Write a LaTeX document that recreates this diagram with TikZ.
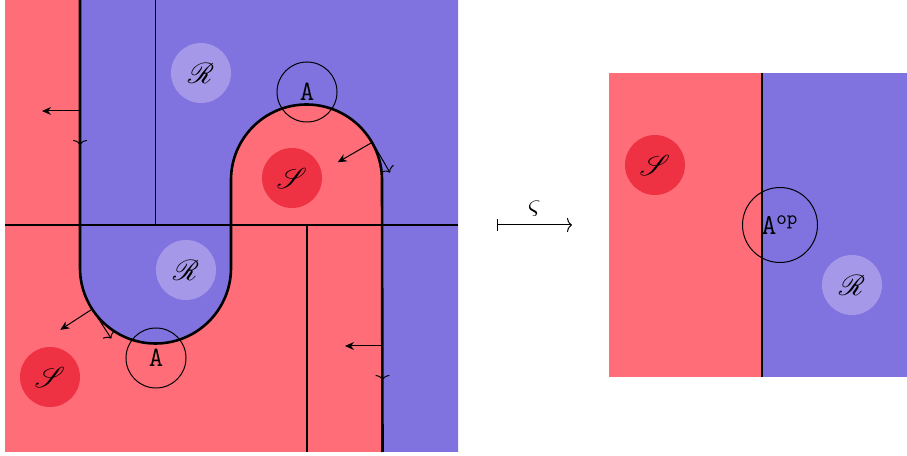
\documentclass[tikz,border=0pt]{standalone}
\usepackage{mathrsfs}
\usetikzlibrary{arrows.meta}
\definecolor{redbg}{RGB}{255,110,120}
\definecolor{bluebg}{RGB}{128,115,224}
\definecolor{redc}{RGB}{238,50,68}
\definecolor{bluec}{RGB}{166,152,232}
\begin{document}
\begin{tikzpicture}[x=0.5pt,y=0.5pt,
  thinline/.style={line width=0.55pt},
  wire/.style={line width=1.3pt},
  blob/.style={circle, minimum size=30pt, inner sep=0pt, font=\fontsize{14}{16}\selectfont},
  sblob/.style={blob, fill=redc},
  rblob/.style={blob, fill=bluec},
  ring/.style={circle, draw, line width=0.5pt, minimum size=30pt, inner sep=0pt, font=\fontsize{14}{16}\selectfont},
  normalarrow/.style={line width=0.5pt, -{Stealth[length=4.5pt,width=4pt]}},
  tangentarrow/.style={line width=0.5pt, -{To[length=2.5pt,width=7pt]}},
]
\useasboundingbox (0,0) rectangle (907,456);
% left panel
\fill[redbg] (5,4) rectangle (458,456);
\fill[bluebg] (80,456) -- (80,188) arc[start angle=180,end angle=360,radius=37.75pt]
  -- (231,276) arc[start angle=180,end angle=0,radius=37.75pt]
  -- (382.5,4) -- (458,4) -- (458,456) -- cycle;
\coordinate (h0) at (5,231); \coordinate (h1) at (458,231);
\coordinate (v0) at (155.5,456); \coordinate (v1) at (155.5,231);
\coordinate (w0) at (307,231); \coordinate (w1) at (307,4);
\draw[thinline] (h0) -- (h1);
\draw[thinline] (v0) -- (v1);
\draw[thinline] (w0) -- (w1);
\node[rblob] (r1) at (201,383) {$\mathscr{R}$};
\node[rblob] (r2) at (186,186) {$\mathscr{R}$};
\node[sblob] (s1) at (292,278) {$\mathscr{S}$};
\node[sblob] (s2) at (50,79) {$\mathscr{S}$};
\draw[wire] (80,456) -- (80,188) arc[start angle=180,end angle=360,radius=37.75pt]
  -- (231,276) arc[start angle=180,end angle=0,radius=37.75pt]
  -- (382.5,4);
\node[ring] (a1) at (307,364) {\texttt{A}};
\node[ring] (a2) at (156,98) {\texttt{A}};
% arrows
\coordinate (c1) at (155.5,188);
\coordinate (c2) at (307,276);
\coordinate (p1) at (80,345);
\coordinate (p1n) at (42,345);
\coordinate (p1t) at (80,311);
\draw[normalarrow] (p1) -- (p1n);
\draw[tangentarrow] (p1) -- (p1t);
\path (c2) ++(30:75.5) coordinate (p2);
\path (p2) ++(210:40) coordinate (p2n);
\path (p2) ++(-60:35) coordinate (p2t);
\draw[normalarrow] (p2) -- (p2n);
\draw[tangentarrow] (p2) -- (p2t);
\path (c1) ++(213:75.5) coordinate (p3);
\path (p3) ++(213:38) coordinate (p3n);
\path (p3) ++(-57:35) coordinate (p3t);
\draw[normalarrow] (p3) -- (p3n);
\draw[tangentarrow] (p3) -- (p3t);
\coordinate (p4) at (382.5,110);
\coordinate (p4n) at (345,110);
\coordinate (p4t) at (382.5,76);
\draw[normalarrow] (p4) -- (p4n);
\draw[tangentarrow] (p4) -- (p4t);
% map arrow
\coordinate (m0) at (497,231);
\coordinate (m1) at (572,231);
\draw[line width=0.5pt, {Bar[width=6pt]}-{To[length=2.5pt,width=7pt]}] (m0) -- (m1)
  node[midway, above=1pt, font=\fontsize{14}{16}\selectfont] {$\varsigma$};
% right panel
\fill[redbg] (609,79) rectangle (762,383);
\fill[bluebg] (762,79) rectangle (907,383);
\node[sblob] (s3) at (655,291) {$\mathscr{S}$};
\node[rblob] (r3) at (852,171) {$\mathscr{R}$};
\coordinate (d0) at (762,383); \coordinate (d1) at (762,79);
\draw[wire] (d0) -- (d1);
\node[ring, minimum size=37.5pt] (aop) at (780,231) {$\mathtt{A}^{\mathtt{op}}$};
\end{tikzpicture}
\end{document}
